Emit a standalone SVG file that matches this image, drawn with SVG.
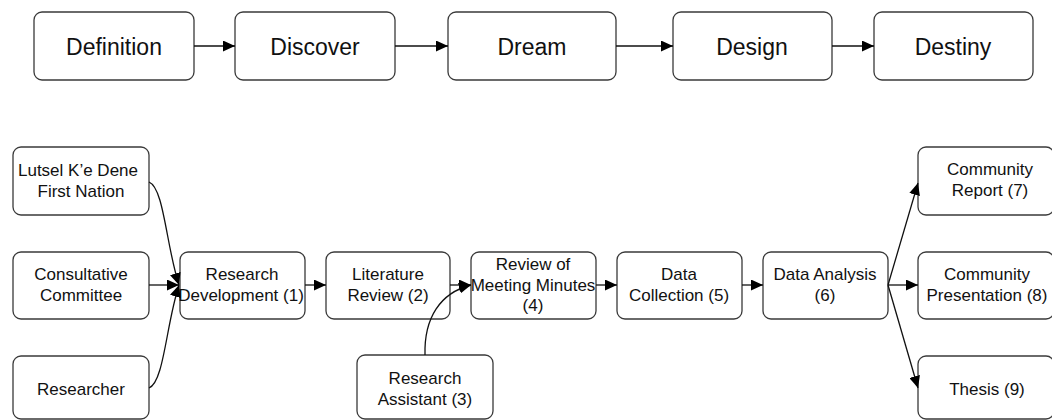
<svg xmlns="http://www.w3.org/2000/svg" width="1052" height="420" viewBox="0 0 1052 420">
<style>
.box{fill:#fff;stroke:#3a3a3a;stroke-width:1.3}
.t{font-family:"Liberation Sans",Arial,sans-serif;font-size:17px;fill:#111;text-anchor:middle}
.tt{font-family:"Liberation Sans",Arial,sans-serif;font-size:23px;fill:#111;text-anchor:middle}
.c{fill:none;stroke:#111;stroke-width:1.3}
</style>
<defs>
<marker id="ah" markerUnits="userSpaceOnUse" markerWidth="13" markerHeight="11" refX="12" refY="5.5" orient="auto">
<path d="M0,0 L12,5.5 L0,11 z" fill="#000"/>
</marker>
</defs>
<rect width="1052" height="420" fill="#fff"/>
<g id="n-definition"><rect class="box" x="34" y="12" width="160" height="68" rx="8"/><text class="tt" x="114" y="55">Definition</text></g>
<g id="n-discover"><rect class="box" x="235" y="12" width="160" height="68" rx="8"/><text class="tt" x="315" y="55">Discover</text></g>
<g id="n-dream"><rect class="box" x="448" y="12" width="168" height="68" rx="8"/><text class="tt" x="532" y="55">Dream</text></g>
<g id="n-design"><rect class="box" x="673" y="12" width="159" height="68" rx="8"/><text class="tt" x="752" y="55">Design</text></g>
<g id="n-destiny"><rect class="box" x="874" y="12" width="159" height="68" rx="8"/><text class="tt" x="953" y="55">Destiny</text></g>

<g id="n-lutsel"><rect class="box" x="13" y="147" width="136" height="68" rx="8"/><text class="t" x="78" y="176">Lutsel K’e Dene</text><text class="t" x="81" y="197">First Nation</text></g>
<g id="n-consult"><rect class="box" x="13" y="252" width="136" height="67" rx="8"/><text class="t" x="81" y="280">Consultative</text><text class="t" x="81" y="301">Committee</text></g>
<g id="n-researcher"><rect class="box" x="13" y="356" width="136" height="63" rx="8"/><text class="t" x="81" y="395">Researcher</text></g>
<g id="n-resdev"><rect class="box" x="180" y="252" width="125" height="67" rx="8"/><text class="t" x="242" y="280">Research</text><text class="t" x="241" y="301">Development (1)</text></g>
<g id="n-litrev"><rect class="box" x="326" y="252" width="124" height="67" rx="8"/><text class="t" x="388" y="280">Literature</text><text class="t" x="388" y="301">Review (2)</text></g>
<g id="n-minutes"><rect class="box" x="471" y="252" width="125" height="67" rx="8"/><text class="t" x="533" y="270">Review of</text><text class="t" x="533" y="291">Meeting Minutes</text><text class="t" x="533" y="311">(4)</text></g>
<g id="n-assistant"><rect class="box" x="357" y="355" width="136" height="64" rx="8"/><text class="t" x="425" y="384">Research</text><text class="t" x="425" y="405">Assistant (3)</text></g>
<g id="n-collect"><rect class="box" x="617" y="252" width="125" height="67" rx="8"/><text class="t" x="679" y="280">Data</text><text class="t" x="679" y="301">Collection (5)</text></g>
<g id="n-analysis"><rect class="box" x="763" y="252" width="125" height="67" rx="8"/><text class="t" x="825" y="280">Data Analysis</text><text class="t" x="825" y="301">(6)</text></g>
<g id="n-report"><rect class="box" x="918" y="147" width="136" height="68" rx="8"/><text class="t" x="990" y="175">Community</text><text class="t" x="990" y="196">Report (7)</text></g>
<g id="n-present"><rect class="box" x="918" y="252" width="136" height="67" rx="8"/><text class="t" x="987" y="280">Community</text><text class="t" x="987" y="301">Presentation (8)</text></g>
<g id="n-thesis"><rect class="box" x="918" y="356" width="136" height="63" rx="8"/><text class="t" x="987" y="395">Thesis (9)</text></g>

<g id="connectors">
<path class="c" d="M194,46 H235" marker-end="url(#ah)"/>
<path class="c" d="M395,46 H448" marker-end="url(#ah)"/>
<path class="c" d="M616,46 H673" marker-end="url(#ah)"/>
<path class="c" d="M832,46 H874" marker-end="url(#ah)"/>
<path class="c" d="M149,182 C164,188 166,245 179,285" marker-end="url(#ah)"/>
<path class="c" d="M149,285 H179" marker-end="url(#ah)"/>
<path class="c" d="M149,388 C164,382 166,325 179,285" marker-end="url(#ah)"/>
<path class="c" d="M305,285 H326" marker-end="url(#ah)"/>
<path class="c" d="M450,285 H471" marker-end="url(#ah)"/>
<path class="c" d="M425,355 C424,318 440,293 471,285" marker-end="url(#ah)"/>
<path class="c" d="M596,285 H617" marker-end="url(#ah)"/>
<path class="c" d="M742,285 H763" marker-end="url(#ah)"/>
<path class="c" d="M888,285 L918,183" marker-end="url(#ah)"/>
<path class="c" d="M888,285 H918" marker-end="url(#ah)"/>
<path class="c" d="M888,285 L918,388" marker-end="url(#ah)"/>
</g>
</svg>
